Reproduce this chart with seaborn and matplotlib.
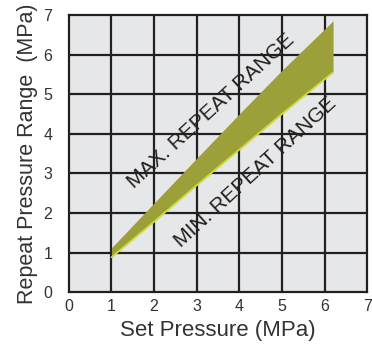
import numpy as np
import pandas as pd
import seaborn as sns
import matplotlib.pyplot as plt

# data
set_pressure = [1.0, 2.0, 3.0, 4.0, 5.0, 6.2]
max_repeat = [1.12, 2.25, 3.38, 4.5, 5.6, 6.85]
min_repeat = [0.88, 1.78, 2.7, 3.6, 4.5, 5.55]

df = pd.DataFrame({'set': set_pressure, 'max': max_repeat, 'min': min_repeat})

sns.set_style('white', {'axes.facecolor': '#e6e7e8'})
plt.rcParams['font.family'] = ['Liberation Sans', 'DejaVu Sans']

fig = plt.figure(figsize=(3.72, 3.47), dpi=100)
ax = fig.add_axes([0.185, 0.158, 0.802, 0.799])

ax.fill_between(df['set'], df['min'], df['max'], color='#9ca038', lw=0, zorder=3)
sns.lineplot(data=df, x='set', y='min', ax=ax, color='#d4de3a', lw=1.2, zorder=4)

ax.set_xlim(0, 7)
ax.set_ylim(0, 7)
for v in range(1, 7):
    ax.axvline(v, color='#231f20', lw=1.6, zorder=1)
    ax.axhline(v, color='#231f20', lw=1.6, zorder=1)

for s in ax.spines.values():
    s.set_linewidth(1.6)
    s.set_color('#231f20')

ax.set_xticks(np.arange(0, 8, 1))
ax.set_xticks(np.arange(0.5, 7, 1), minor=True)
ax.set_yticks(np.arange(0, 8, 1))
ax.tick_params(axis='x', which='both', direction='in', length=3, width=1.3,
               color='#231f20', labelsize=11.5, labelcolor='#333333', pad=5)
ax.tick_params(axis='y', length=0, labelsize=11.5, labelcolor='#333333', pad=12)

ax.set_xlabel('Set Pressure (MPa)', fontsize=16, color='#333333', labelpad=4)
ax.set_ylabel('Repeat Pressure Range  (MPa)', fontsize=15.5, color='#333333', labelpad=4)

ax.text(3.33, 4.57, 'MAX. REPEAT RANGE', rotation=42.5, fontsize=15, color='#231f20',
        ha='center', va='center', rotation_mode='anchor', zorder=5)
ax.text(4.37, 3.03, 'MIN. REPEAT RANGE', rotation=42.5, fontsize=15, color='#231f20',
        ha='center', va='center', rotation_mode='anchor', zorder=5)

fig.savefig('out.png', dpi=100)
